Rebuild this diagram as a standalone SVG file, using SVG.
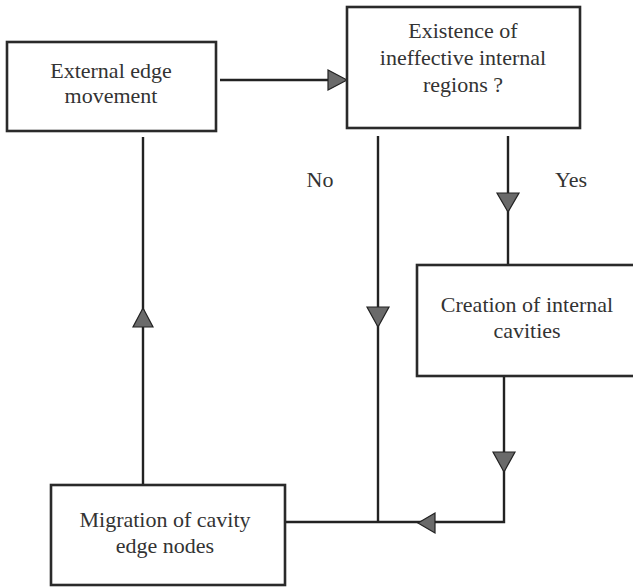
<svg xmlns="http://www.w3.org/2000/svg" width="633" height="587" viewBox="0 0 633 587">
<defs>
<style>
.box{fill:#fff;stroke:#2a2a2a;stroke-width:2.6}
.t{font-family:'Liberation Serif','DejaVu Serif',serif;font-size:22px;fill:#333;text-anchor:middle}
.ln{fill:none;stroke:#222;stroke-width:2.4}
.ah{fill:#6a6a6a;stroke:#222;stroke-width:1.2}
</style>
</defs>
<rect width="633" height="587" fill="#fff"/>
<g id="connectors">
<line class="ln" x1="220" y1="80" x2="330" y2="80"/>
<polygon class="ah" points="347,80 328,70 328,90"/>
<line class="ln" x1="143" y1="137" x2="143" y2="485"/>
<polygon class="ah" points="143,308 133,327 153,327"/>
<line class="ln" x1="378" y1="136" x2="378" y2="523"/>
<polygon class="ah" points="378,327 367,307 389,307"/>
<line class="ln" x1="508" y1="136" x2="508" y2="265"/>
<polygon class="ah" points="508,212 497,193 519,193"/>
<polyline class="ln" points="504,376 504,522 285,522"/>
<polygon class="ah" points="504,472 493,452 515,452"/>
<polygon class="ah" points="418,523 435,513 435,533"/>
<text class="t" x="320" y="187">No</text>
<text class="t" x="571" y="187">Yes</text>
</g>
<g id="n1">
<rect class="box" x="7" y="42" width="209" height="89"/>
<text class="t" x="111" y="78">External edge</text>
<text class="t" x="111" y="103">movement</text>
</g>
<g id="n2">
<rect class="box" x="347" y="7" width="233" height="121"/>
<text class="t" x="463" y="38">Existence of</text>
<text class="t" x="463" y="65">ineffective internal</text>
<text class="t" x="463" y="92">regions ?</text>
</g>
<g id="n3">
<rect class="box" x="417" y="265" width="230" height="111"/>
<text class="t" x="527" y="312">Creation of internal</text>
<text class="t" x="527" y="338">cavities</text>
</g>
<g id="n4">
<rect class="box" x="51" y="485" width="234" height="100"/>
<text class="t" x="165" y="527">Migration of cavity</text>
<text class="t" x="165" y="553">edge nodes</text>
</g>
</svg>
